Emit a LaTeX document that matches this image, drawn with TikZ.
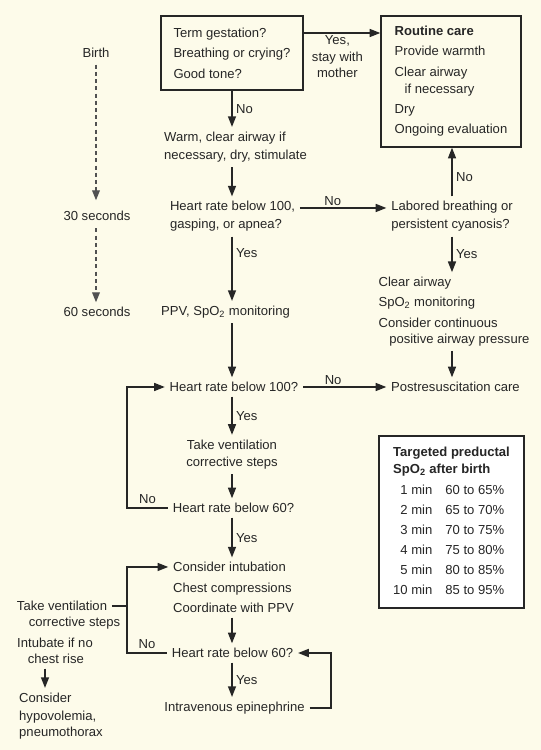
\documentclass[tikz,border=0pt]{standalone}
\usepackage{fontspec}
\setmainfont{Liberation Sans}
\usetikzlibrary{arrows.meta}

\definecolor{paper}{HTML}{FDFBEA}
\definecolor{ink}{HTML}{262626}

\newcommand{\chartfont}{\fontsize{9.8}{13}\selectfont}

\tikzset{
  txt/.style={inner sep=3.5pt, font=\chartfont, text=ink},
  lefttxt/.style={txt, align=left},
  midtxt/.style={txt, align=center},
  answer/.style={txt, inner sep=2.5pt},
  qbox/.style={draw=ink, line width=1.1pt, align=left, font=\chartfont, text=ink, inner sep=0pt},
  flow/.style={draw=ink, line width=1.1pt, -{Triangle[length=8pt,width=6pt]}},
  plain/.style={draw=ink, line width=1.1pt},
  timeline/.style={draw=ink!80, line width=1pt, dash pattern=on 3pt off 2.4pt, -{Triangle[length=7.5pt,width=5.8pt]}},
}

\begin{document}
\begin{tikzpicture}[x=0.75pt,y=-0.75pt]
  % page
  \fill[paper] (0,0) rectangle (541,750);

  \coordinate (spine) at (232,0);
  \coordinate (rspine) at (452,0);
  \coordinate (loopx) at (127,0);
  \coordinate (epix) at (331,0);
  \coordinate (leftx) at (45,0);

  % time line
  \node[txt] (birth) at (96,53) {Birth};
  \node[txt] (sec30) at (97,216) {30 seconds};
  \node[txt] (sec60) at (97,312) {60 seconds};
  \draw[timeline, shorten <=1.5pt, shorten >=4.5pt] (birth.south -| 96,0) -- (sec30.north -| 96,0);
  \draw[timeline, shorten <=2pt] (sec30.south -| 96,0) -- (sec60.north -| 96,0);

  % top
  \node[qbox, minimum width=106.5pt, minimum height=55.5pt] (q1) at (232,53)
    {Term gestation?\\[2pt] Breathing or crying?\\[2.5pt] Good tone?};
  \node[qbox, minimum width=105pt, minimum height=98.25pt] (routine) at (451,81.5)
    {\textbf{Routine care}\\[2pt] Provide warmth\\[2.5pt] Clear airway\\ \hspace*{7.5pt}if necessary\\[2pt] Dry\\[2pt] Ongoing evaluation};
  \draw[flow] ([yshift=15pt]q1.east) -- ([yshift=15pt]q1.east -| routine.west)
    node[midtxt, pos=0.44, below, inner sep=1.5pt] (stay) {Yes,\\[-0.6pt] stay with\\[-0.6pt] mother};

  \node[lefttxt] (warm) at (235.5,147) {Warm, clear airway if\\[0.5pt] necessary, dry, stimulate};
  \draw[flow] (q1.south) -- (warm.north -| spine) node[answer, midway, right] (no1) {No};

  \node[lefttxt] (hr1) at (232.5,216.5) {Heart rate below 100,\\[0.5pt] gasping, or apnea?};
  \draw[flow] (warm.south -| spine) -- (hr1.north -| spine);

  % right column
  \node[lefttxt] (labored) at (452,216.5) {Labored breathing or\\[0.5pt] persistent cyanosis?};
  \draw[flow] ([yshift=6.4pt]hr1.east) -- ([yshift=6.4pt]labored.west)
    node[answer, pos=0.38, above, inner sep=1.5pt] (no2) {No};
  \draw[flow] (labored.north -| rspine) -- (routine.south -| rspine)
    node[answer, pos=0.4, right] (no3) {No};

  \node[lefttxt] (cpap) at (454,311.5)
    {Clear airway\\[2pt] SpO\textsubscript{2} monitoring\\[2.5pt] Consider continuous\\[-1pt] \hspace*{8pt}positive airway pressure};
  \draw[flow] (labored.south -| rspine) -- (cpap.north -| rspine)
    node[answer, midway, right] (yes1) {Yes};

  \node[txt] (post) at (455.5,387) {Postresuscitation care};
  \draw[flow] (cpap.south -| rspine) -- (post.north -| rspine);

  % main column
  \node[txt] (ppv) at (225.5,312) {PPV, SpO\textsubscript{2} monitoring};
  \draw[flow] (hr1.south -| spine) -- (ppv.north -| spine)
    node[answer, pos=0.25, right] (yes2) {Yes};

  \node[txt] (hr2) at (234,387) {Heart rate below 100?};
  \draw[flow] (ppv.south -| spine) -- (hr2.north -| spine);
  \draw[flow] (hr2.east) -- (post.west) node[answer, pos=0.36, above, inner sep=1.5pt] (no4) {No};

  \node[midtxt] (vent) at (232,454.5) {Take ventilation\\ corrective steps};
  \draw[flow] (hr2.south -| spine) -- (vent.north -| spine)
    node[answer, midway, right] (yes3) {Yes};

  \node[txt] (hr3) at (233.5,508) {Heart rate below 60?};
  \draw[flow] (vent.south -| spine) -- (hr3.north -| spine);
  \draw[flow] (hr3.west) -- (hr3.west -| loopx) node[answer, midway, above] (no5) {No}
    |- (hr2.west);

  \node[lefttxt] (comp) at (233.5,587.5)
    {Consider intubation\\[2.5pt] Chest compressions\\[2pt] Coordinate with PPV};
  \draw[flow] (hr3.south -| spine) -- (comp.north -| spine)
    node[answer, midway, right] (yes4) {Yes};

  \node[txt] (hr4) at (232.5,653) {Heart rate below 60?};
  \draw[flow] (comp.south -| spine) -- (hr4.north -| spine);
  \draw[flow] (hr4.west) -- (hr4.west -| loopx) node[answer, midway, above] (no6) {No}
    |- ([yshift=15.4pt]comp.west);

  \node[txt] (epi) at (234.5,708) {Intravenous epinephrine};
  \draw[flow] (hr4.south -| spine) -- (epi.north -| spine)
    node[answer, midway, right] (yes5) {Yes};
  \draw[flow] (epi.east) -- (epi.east -| epix) |- (hr4.east);

  % left notes
  \node[txt] (leftvent) at (62,606) {Take ventilation};
  \node[txt] (leftsteps) at (74.5,623) {corrective steps};
  \draw[plain] (leftvent.east) -- (leftvent.east -| loopx);
  \node[lefttxt, anchor=west] (intub) at (12.3,651) {Intubate if no\\[-1pt] \hspace*{8pt}chest rise};
  \node[lefttxt, anchor=west] (hypo) at (14.3,716) {Consider\\[0.5pt] hypovolemia,\\[-1pt] pneumothorax};
  \draw[flow] (intub.south -| leftx) -- (hypo.north -| leftx);

  % saturation table
  \node[draw=ink, line width=1.1pt, fill=white, minimum width=108.75pt, minimum height=129pt,
        inner sep=0pt, font=\fontsize{9.8}{12.75}\selectfont, text=ink] (target) at (451.5,522)
    {\begin{tabular}{@{}r@{\hspace{9.75pt}}l@{}}
      \multicolumn{2}{@{}l@{}}{\bfseries Targeted preductal}\\
      \multicolumn{2}{@{}l@{}}{\bfseries SpO\textsubscript{2} after birth}\\[3pt]
      1 min & 60 to 65\%\\[2.3pt]
      2 min & 65 to 70\%\\[2.3pt]
      3 min & 70 to 75\%\\[2.3pt]
      4 min & 75 to 80\%\\[2.3pt]
      5 min & 80 to 85\%\\[2.3pt]
      10 min & 85 to 95\%
    \end{tabular}};
\end{tikzpicture}
\end{document}
